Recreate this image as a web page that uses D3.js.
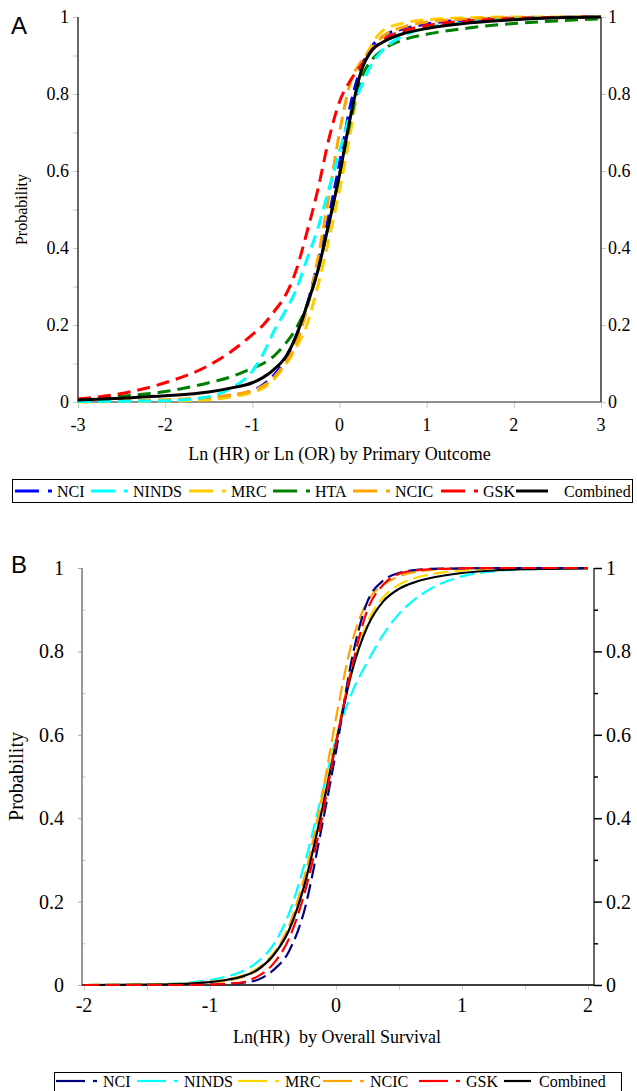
<!DOCTYPE html>
<html><head><meta charset="utf-8">
<script src="https://cdn.jsdelivr.net/npm/d3@7"></script>
<style>body{margin:0;background:#fff}svg{display:block}</style>
</head><body>
<svg id="c" width="637" height="1091"></svg>
<script>
// ---------- Panel A data ----------
const gridA = [-3,-2.5,-2,-1.5,-1.25,-1,-0.875,-0.75,-0.625,-0.5,-0.375,-0.25,-0.125,0,0.125,0.25,0.375,0.5,0.75,1,1.5,2,2.5,3];
const A_NCI      = [0.001,0.002,0.003,0.008,0.016,0.03,0.045,0.07,0.11,0.17,0.25,0.36,0.48,0.62,0.77,0.87,0.925,0.95,0.97,0.982,0.993,0.997,0.999,1];
const A_NINDS    = [0.001,0.002,0.003,0.014,0.035,0.08,0.125,0.185,0.235,0.29,0.37,0.45,0.55,0.65,0.75,0.82,0.88,0.915,0.953,0.972,0.988,0.996,0.999,1];
const A_MRC      = [0,0.001,0.002,0.006,0.013,0.025,0.036,0.06,0.095,0.14,0.2,0.3,0.42,0.55,0.7,0.86,0.93,0.965,0.985,0.993,0.998,1,1,1];
const A_HTA      = [0.005,0.015,0.027,0.05,0.065,0.088,0.1,0.12,0.15,0.19,0.25,0.34,0.46,0.59,0.73,0.84,0.89,0.915,0.942,0.955,0.972,0.983,0.99,0.995];
const A_NCIC     = [0.002,0.004,0.006,0.012,0.018,0.03,0.042,0.065,0.1,0.15,0.24,0.37,0.53,0.7,0.83,0.885,0.92,0.95,0.975,0.987,0.995,0.998,0.999,1];
const A_GSK      = [0.008,0.022,0.05,0.095,0.13,0.175,0.2,0.235,0.275,0.34,0.44,0.55,0.68,0.78,0.835,0.875,0.914,0.94,0.965,0.978,0.99,0.996,0.999,1];
const A_Combined = [0.005,0.01,0.016,0.026,0.036,0.05,0.064,0.085,0.115,0.17,0.25,0.34,0.46,0.59,0.74,0.86,0.915,0.935,0.958,0.97,0.985,0.993,0.998,1];
const namesA  = ["NCI","NINDS","MRC","HTA","NCIC","GSK","Combined"];
const colorsA = ["#0000ff","#00ffff","#ffcc00","#008000","#ffa500","#ff0000","#000000"];
const ticksAx = [-3,-2,-1,0,1,2,3];
const ticksAy = [0,0.2,0.4,0.6,0.8,1];
const tickLabelsAy = ["0","0.2","0.4","0.6","0.8","1"];

// ---------- Panel B data ----------
const gridB = [-2,-1.5,-1.25,-1,-0.875,-0.75,-0.625,-0.5,-0.375,-0.25,-0.125,0,0.125,0.25,0.375,0.5,0.625,0.75,1,1.25,1.5,2];
const B_NCI      = [0,0,0,0.001,0.002,0.005,0.012,0.035,0.08,0.18,0.36,0.56,0.78,0.92,0.97,0.988,0.995,0.998,0.999,1,1,1];
const B_NINDS    = [0,0.001,0.004,0.012,0.02,0.032,0.055,0.095,0.17,0.29,0.44,0.59,0.7,0.775,0.84,0.89,0.925,0.95,0.98,0.992,0.997,1];
const B_MRC      = [0,0.001,0.003,0.008,0.013,0.022,0.04,0.075,0.14,0.25,0.41,0.59,0.76,0.87,0.93,0.96,0.976,0.985,0.994,0.997,0.999,1];
const B_NCIC     = [0,0.001,0.002,0.006,0.01,0.018,0.035,0.07,0.14,0.26,0.43,0.64,0.82,0.92,0.96,0.98,0.99,0.995,0.999,1,1,1];
const B_GSK      = [0,0,0,0.001,0.003,0.006,0.02,0.05,0.11,0.22,0.38,0.58,0.76,0.9,0.96,0.986,0.994,0.997,0.999,1,1,1];
const B_Combined = [0,0.001,0.002,0.007,0.012,0.02,0.036,0.07,0.13,0.24,0.4,0.58,0.75,0.86,0.92,0.95,0.966,0.976,0.988,0.994,0.997,0.999];
const namesB  = ["NCI","NINDS","MRC","NCIC","GSK","Combined"];
const colorsB = ["#000080","#00ffff","#ffd700","#ffa500","#ff0000","#000000"];
const ticksBx = [-2,-1,0,1,2];
const ticksBy = [0,0.2,0.4,0.6,0.8,1];
const tickLabelsBy = ["0","0.2","0.4","0.6","0.8","1"];

const svg = d3.select("#c");
const SERIF = "'Liberation Serif','Times New Roman',serif";
const SANS = "'Liberation Sans',Arial,sans-serif";

// ================= Panel A =================
(function(){
  const L=78,R=601,T=17,B=402;
  const x = d3.scaleLinear().domain([-3,3]).range([L,R]);
  const y = d3.scaleLinear().domain([0,1]).range([B,T]);
  const g = svg.append("g");
  g.append("g").attr("transform",`translate(${L},0)`)
    .call(d3.axisLeft(y).tickValues(d3.range(0,1.0001,0.1)).tickSize(5).tickFormat(""))
    .call(a=>{a.select(".domain").remove();a.selectAll("line").attr("stroke","#c8c8c8");});
  g.append("g").attr("transform",`translate(${R},0)`)
    .call(d3.axisRight(y).tickValues(ticksAy).tickSize(5).tickFormat(""))
    .call(a=>{a.select(".domain").remove();a.selectAll("line").attr("stroke","#c8c8c8");});
  g.append("g").attr("transform",`translate(0,${B})`)
    .call(d3.axisBottom(x).tickValues(ticksAx).tickSize(6).tickFormat(""))
    .call(a=>{a.select(".domain").remove();a.selectAll("line").attr("stroke","#c8c8c8");});
  g.append("line").attr("x1",L).attr("x2",L).attr("y1",T).attr("y2",B).attr("stroke","#000").attr("stroke-width",1.2);
  g.append("line").attr("x1",R).attr("x2",R).attr("y1",T).attr("y2",B).attr("stroke","#000").attr("stroke-width",1.2);
  g.append("line").attr("x1",L).attr("x2",R).attr("y1",B).attr("y2",B).attr("stroke","#222").attr("stroke-width",1.2);
  ticksAy.forEach((v,i)=>{
    g.append("text").attr("x",L-9).attr("y",y(v)).attr("dy","0.35em").attr("text-anchor","end").attr("font-family",SERIF).attr("font-size","18px").text(tickLabelsAy[i]);
    g.append("text").attr("x",R+7).attr("y",y(v)).attr("dy","0.35em").attr("text-anchor","start").attr("font-family",SERIF).attr("font-size","18px").text(tickLabelsAy[i]);
  });
  ticksAx.forEach(v=>{
    g.append("text").attr("x",x(v)).attr("y",B+29).attr("text-anchor","middle").attr("font-family",SERIF).attr("font-size","18px").text(v<0?"-"+Math.abs(v):String(v));
  });
  g.append("text").attr("x",(L+R)/2).attr("y",B+58).attr("text-anchor","middle").attr("font-family",SERIF).attr("font-size","18px").text("Ln (HR) or Ln (OR) by Primary Outcome");
  g.append("text").attr("transform",`translate(27,${(T+B)/2}) rotate(-90)`).attr("text-anchor","middle").attr("font-family",SERIF).attr("font-size","16px").text("Probability");
  g.append("text").attr("x",11).attr("y",34).attr("font-family",SANS).attr("font-size","24px").text("A");
  const seriesA = [A_NCI,A_NINDS,A_MRC,A_HTA,A_NCIC,A_GSK,A_Combined];
  const line = d3.line().x(d=>x(d[0])).y(d=>y(d[1])).curve(d3.curveMonotoneX);
  [0,2,4,3,1,5,6].forEach(i=>{
    g.append("path").datum(gridA.map((gx,k)=>[gx,seriesA[i][k]]))
      .attr("d",line).attr("fill","none").attr("stroke",colorsA[i])
      .attr("stroke-width",3).attr("stroke-dasharray",namesA[i]==="Combined"?null:"13,7");
  });
  const lg = svg.append("g");
  lg.append("rect").attr("x",12.5).attr("y",479.5).attr("width",620).attr("height",23).attr("fill","none").attr("stroke","#000").attr("stroke-width",1);
  const lx = [15,91,189,273,353,441,516];
  namesA.forEach((n,i)=>{
    const cy=491, x0=lx[i];
    if(n==="Combined"){
      lg.append("line").attr("x1",x0).attr("x2",x0+32).attr("y1",cy).attr("y2",cy).attr("stroke",colorsA[i]).attr("stroke-width",3);
      lg.append("text").attr("x",x0+48).attr("y",cy).attr("dy","0.35em").attr("font-family",SERIF).attr("font-size","16px").text(n);
    } else {
      lg.append("line").attr("x1",x0).attr("x2",x0+24).attr("y1",cy).attr("y2",cy).attr("stroke",colorsA[i]).attr("stroke-width",3);
      lg.append("line").attr("x1",x0+33).attr("x2",x0+37).attr("y1",cy).attr("y2",cy).attr("stroke",colorsA[i]).attr("stroke-width",3);
      lg.append("text").attr("x",x0+42).attr("y",cy).attr("dy","0.35em").attr("font-family",SERIF).attr("font-size","16px").text(n);
    }
  });
})();

// ================= Panel B =================
(function(){
  const L=82,R=594,T=568,B=985;
  const x = d3.scaleLinear().domain([-2,2]).range([84,588]);
  const y = d3.scaleLinear().domain([0,1]).range([B,T]);
  const g = svg.append("g");
  g.append("g").attr("transform",`translate(${L},0)`)
    .call(d3.axisLeft(y).tickValues(ticksBy).tickSize(4).tickFormat(""))
    .call(a=>{a.select(".domain").remove();a.selectAll("line").attr("stroke","#aaa");});
  g.append("g").attr("transform",`translate(${L},0)`)
    .call(d3.axisRight(y).tickValues([0.1,0.3,0.5,0.7,0.9]).tickSize(4).tickFormat(""))
    .call(a=>{a.select(".domain").remove();a.selectAll("line").attr("stroke","#ccc");});
  g.append("g").attr("transform",`translate(${R},0)`)
    .call(d3.axisRight(y).tickValues(ticksBy).tickSize(8).tickFormat(""))
    .call(a=>{a.select(".domain").remove();a.selectAll("line").attr("stroke","#000").attr("stroke-width",1.5);});
  g.append("g").attr("transform",`translate(${R},0)`)
    .call(d3.axisRight(y).tickValues([0.1,0.3,0.5,0.7,0.9]).tickSize(4).tickFormat(""))
    .call(a=>{a.select(".domain").remove();a.selectAll("line").attr("stroke","#000").attr("stroke-width",1.5);});
  g.append("g").attr("transform",`translate(0,${B})`)
    .call(d3.axisBottom(x).tickValues([-2,-1.5,-1,-0.5,0,0.5,1,1.5,2]).tickSize(5).tickFormat(""))
    .call(a=>{a.select(".domain").remove();a.selectAll("line").attr("stroke","#ccc");});
  g.append("line").attr("x1",L).attr("x2",L).attr("y1",T).attr("y2",B).attr("stroke","#777").attr("stroke-width",1.5);
  g.append("line").attr("x1",R).attr("x2",R).attr("y1",T).attr("y2",B).attr("stroke","#000").attr("stroke-width",1.2);
  g.append("line").attr("x1",L).attr("x2",R).attr("y1",B).attr("y2",B).attr("stroke","#000").attr("stroke-width",1.5);
  ticksBy.forEach((v,i)=>{
    g.append("text").attr("x",L-18).attr("y",y(v)).attr("dy","0.35em").attr("text-anchor","end").attr("font-family",SERIF).attr("font-size","20px").text(tickLabelsBy[i]);
    g.append("text").attr("x",R+12).attr("y",y(v)).attr("dy","0.35em").attr("text-anchor","start").attr("font-family",SERIF).attr("font-size","20px").text(tickLabelsBy[i]);
  });
  ticksBx.forEach(v=>{
    g.append("text").attr("x",x(v)).attr("y",B+27).attr("text-anchor","middle").attr("font-family",SERIF).attr("font-size","20px").text(v<0?"-"+Math.abs(v):String(v));
  });
  g.append("text").attr("x",337).attr("y",B+58).attr("text-anchor","middle").attr("font-family",SERIF).attr("font-size","18px").attr("xml:space","preserve").text("Ln(HR)  by Overall Survival");
  g.append("text").attr("transform",`translate(23,${(T+B)/2}) rotate(-90)`).attr("text-anchor","middle").attr("font-family",SERIF).attr("font-size","20px").text("Probability");
  g.append("text").attr("x",11).attr("y",573).attr("font-family",SANS).attr("font-size","24px").text("B");
  const seriesB = [B_NCI,B_NINDS,B_MRC,B_NCIC,B_GSK,B_Combined];
  const line = d3.line().x(d=>x(d[0])).y(d=>y(d[1])).curve(d3.curveMonotoneX);
  [1,2,3,5,0,4].forEach(i=>{
    g.append("path").datum(gridB.map((gx,k)=>[gx,seriesB[i][k]]))
      .attr("d",line).attr("fill","none").attr("stroke",colorsB[i])
      .attr("stroke-width",2.2).attr("stroke-dasharray",namesB[i]==="Combined"?null:"15,6");
  });
  const lg = svg.append("g");
  lg.append("rect").attr("x",54.5).attr("y",1072.5).attr("width",567).attr("height",26).attr("fill","none").attr("stroke","#000").attr("stroke-width",1);
  const lx = [56,137,238,323,419,504];
  namesB.forEach((n,i)=>{
    const cy=1081, x0=lx[i];
    if(n==="Combined"){
      lg.append("line").attr("x1",x0).attr("x2",x0+27).attr("y1",cy).attr("y2",cy).attr("stroke",colorsB[i]).attr("stroke-width",2.2);
      lg.append("text").attr("x",x0+35).attr("y",cy).attr("dy","0.35em").attr("font-family",SERIF).attr("font-size","16px").text(n);
    } else {
      lg.append("line").attr("x1",x0).attr("x2",x0+29).attr("y1",cy).attr("y2",cy).attr("stroke",colorsB[i]).attr("stroke-width",2.2);
      lg.append("line").attr("x1",x0+37).attr("x2",x0+41).attr("y1",cy).attr("y2",cy).attr("stroke",colorsB[i]).attr("stroke-width",2.2);
      lg.append("text").attr("x",x0+47).attr("y",cy).attr("dy","0.35em").attr("font-family",SERIF).attr("font-size","16px").text(n);
    }
  });
})();
</script>
</body></html>
